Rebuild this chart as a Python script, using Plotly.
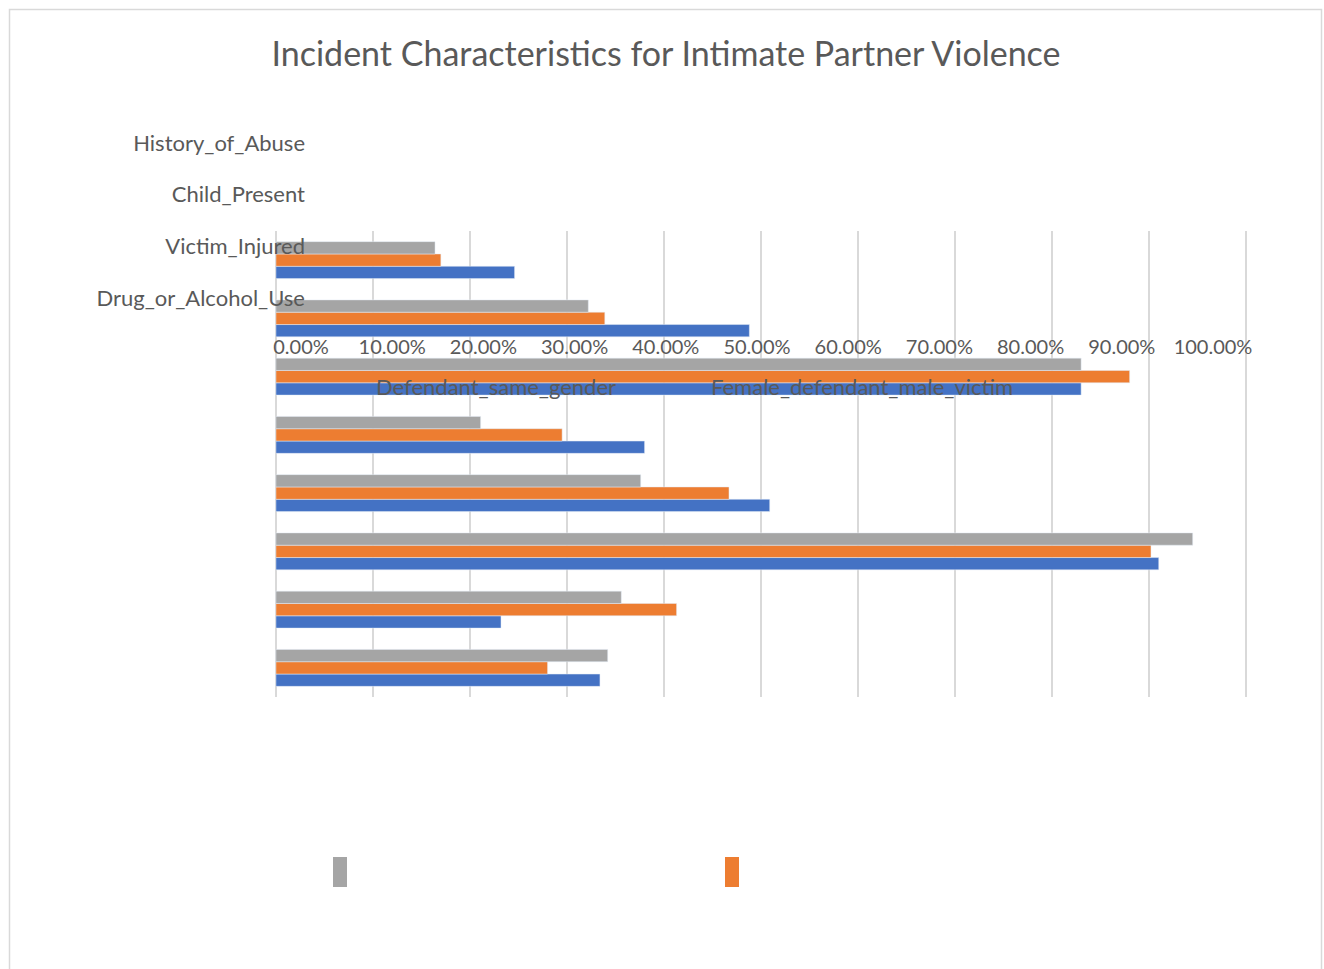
import plotly.graph_objects as go

# ---- data (bottom-to-top order of the bar groups) ----
rows = [1, 2, 3, 4, 5, 6, 7, 8]
gray_vals = [0.342, 0.356, 0.945, 0.376, 0.211, 0.830, 0.322, 0.164]
orange_vals = [0.280, 0.413, 0.902, 0.467, 0.295, 0.880, 0.339, 0.170]
blue_vals = [0.334, 0.232, 0.910, 0.509, 0.380, 0.830, 0.488, 0.246]

series_names = ["Male_defendant_female_victim", "Female_defendant_male_victim", "Defendant_same_gender"]

# category labels (displaced, top to bottom)
cat_labels = ["History_of_Abuse", "Child_Present", "Victim_Injured", "Drug_or_Alcohol_Use"]
# x tick values
tick_vals = [0.0, 0.1, 0.2, 0.3, 0.4, 0.5, 0.6, 0.7, 0.8, 0.9, 1.0]
legend_labels = ["Defendant_same_gender", "Female_defendant_male_victim"]

title = "Incident Characteristics for Intimate Partner Violence"

BLUE = "#4472C4"
ORANGE = "#ED7D31"
GRAY = "#A5A5A5"
TXT = "#595959"
FONT = "Lato"

W, H = 1324, 969
L, R = 274, 1248       # plot area left/right px (slightly padded so edge gridlines show)
TOP, BOT = 100, 697    # paper top/bottom px
PLOT_TOP = 231
XR = [-0.002, 1.002]

def px(x):
    return (x - L) / (R - L)

def py(y):
    return (BOT - y) / (BOT - TOP)

fig = go.Figure()
fig.add_trace(go.Bar(y=rows, x=blue_vals, orientation="h", marker_color=BLUE, name=series_names[0]))
fig.add_trace(go.Bar(y=rows, x=orange_vals, orientation="h", marker_color=ORANGE, name=series_names[1]))
fig.add_trace(go.Bar(y=rows, x=gray_vals, orientation="h", marker_color=GRAY, name=series_names[2]))
# empty traces to create helper axes
fig.add_trace(go.Scatter(x=[], y=[], xaxis="x2", yaxis="y", showlegend=False))
fig.add_trace(go.Scatter(x=[], y=[], xaxis="x3", yaxis="y2", showlegend=False))

TRANSP = "rgba(0,0,0,0)"
fig.update_layout(
    width=W, height=H,
    margin=dict(l=L, r=W - R, t=TOP, b=H - BOT),
    paper_bgcolor="white", plot_bgcolor=TRANSP,
    showlegend=False,
    barmode="group", bargap=0.365, bargroupgap=0,
    font=dict(family=FONT, color=TXT, size=20),
    title=dict(text=title, x=666 / W, xref="container", y=1 - 54 / H, yref="container",
               yanchor="middle", xanchor="center",
               font=dict(size=34, color=TXT, family=FONT)),
    xaxis=dict(range=XR, tickvals=tick_vals, showticklabels=False,
               showgrid=True, gridcolor="#D9D9D9", gridwidth=1.5,
               zeroline=True, zerolinecolor="#D9D9D9", zerolinewidth=1.5,
               showline=False, ticks=""),
    xaxis2=dict(range=[0, 1], tickvals=tick_vals, tickformat=".2%",
                anchor="free", position=py(333), side="bottom",
                domain=[px(301), px(1213)], showgrid=False, zeroline=False,
                showline=False, ticks="", tickfont=dict(size=20, color=TXT)),
    xaxis3=dict(range=[0, 1], domain=[0, 1], anchor="y2", visible=False,
                showgrid=False, zeroline=False),
    yaxis=dict(range=[0.5, 8.5], domain=[0, py(PLOT_TOP)], showticklabels=False,
               showgrid=False, zeroline=False, showline=False, ticks=""),
    yaxis2=dict(range=[-0.5, 3.5], domain=[py(324), py(117)], anchor="free",
                position=px(305), side="left", tickvals=[3, 2, 1, 0], ticktext=cat_labels,
                showgrid=False, zeroline=False, showline=False, ticks="",
                tickfont=dict(size=22, color=TXT)),
)

# displaced legend texts
for lbl, cx in zip(legend_labels, [496, 862]):
    fig.add_annotation(text=lbl, x=px(cx), y=py(386), xref="paper", yref="paper",
                       showarrow=False, xanchor="center", yanchor="middle",
                       font=dict(size=22, color=TXT))

# legend swatches
for col, x0 in zip([GRAY, ORANGE], [333, 725]):
    fig.add_shape(type="rect", xref="paper", yref="paper",
                  x0=px(x0), x1=px(x0 + 14), y0=py(887), y1=py(857),
                  fillcolor=col, line=dict(width=0))

# chart border
fig.add_shape(type="rect", xref="paper", yref="paper",
              x0=px(9.5), x1=px(1321.5), y0=py(990), y1=py(9.5),
              line=dict(color="#D9D9D9", width=1.5), fillcolor=TRANSP, layer="below")

fig.write_html("out.html", config={"displayModeBar": False},
               post_script="document.body.style.margin='0';document.body.style.overflow='hidden';")
